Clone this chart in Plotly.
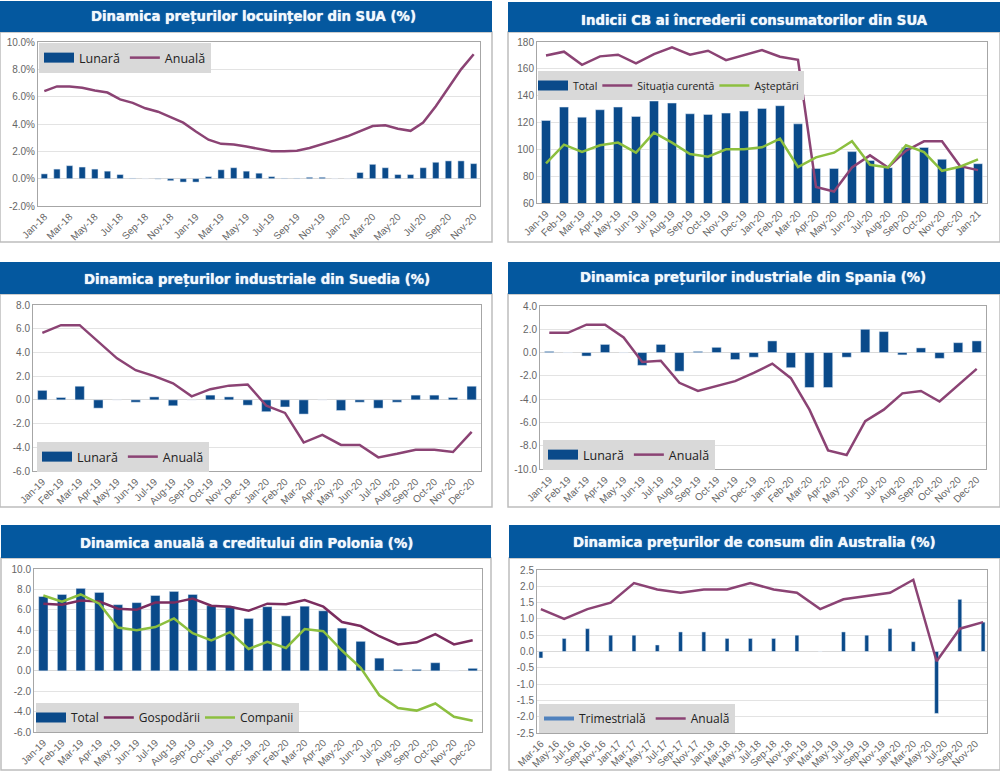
"""
six small macro panels, one page
"""
import pandas as pd
import plotly.graph_objects as go


def month_labels(start, count):
    return list(pd.date_range(start, periods=count, freq="MS").strftime("%b-%y"))


# SUA, preturi locuinte
us_house_months = month_labels("2018-01-01", 35)
us_house_monthly = [0.35, 0.7, 0.95, 0.85, 0.7, 0.55, 0.3, 0.03, 0, -0.03, -0.15, -0.25,
                    -0.25, 0.15, 0.65, 0.8, 0.55, 0.4, 0.15, 0.03, 0.03, 0.1, 0.1, 0,
                    0, 0.45, 1.05, 0.8, 0.3, 0.3, 0.8, 1.2, 1.3, 1.3, 1.1]
us_house_annual = [6.4, 6.75, 6.75, 6.65, 6.45, 6.3, 5.8, 5.55, 5.15, 4.9, 4.5, 4.1,
                   3.45, 2.85, 2.55, 2.5, 2.35, 2.15, 2.0, 2.0, 2.05, 2.25, 2.5, 2.8,
                   3.1, 3.5, 3.85, 3.9, 3.65, 3.5, 4.1, 5.3, 6.65, 8.0, 9.1]
us_house_yticks = [-2, 0, 2, 4, 6, 8, 10]

# SUA, increderea consumatorilor
us_conf_months = month_labels("2019-01-01", 25)
us_conf_total = [121.5, 131.5, 124, 129.5, 131.5, 124.5, 136, 134.5, 126.5, 126, 127, 128.5,
                 130.5, 132.5, 119, 85.7, 85.7, 98.3, 91.7, 86.3, 101.3, 101.4, 92.6, 87, 89.3]
us_conf_current = [170, 172.8, 163, 169.3, 170.5, 164, 171, 176, 170.5, 173.5, 166.5, 170.5,
                   174, 169, 166.7, 72, 68.6, 86.5, 95.5, 86.5, 99, 106, 106, 87.5, 84.5]
us_conf_expect = [89.5, 103.5, 98, 103, 105, 97.5, 112.5, 105, 96.5, 94.5, 100, 100,
                  101.5, 108, 86.8, 94, 97.5, 106, 88.5, 86.5, 103, 98, 84, 87, 92.5]
us_conf_yticks = [60, 80, 100, 120, 140, 160, 180]

months_24 = month_labels("2019-01-01", 24)

# Suedia
se_monthly = [0.8, 0.2, 1.15, -0.7, 0, -0.2, 0.25, -0.5, 0, 0.4, 0.25, -0.45,
              -1.0, -0.6, -1.2, 0, -0.9, -0.2, -0.7, -0.2, 0.4, 0.4, 0.2, 1.15]
se_annual = [5.65, 6.3, 6.3, 4.9, 3.5, 2.5, 2.0, 1.4, 0.3, 0.9, 1.2, 1.3,
             -0.5, -1.1, -3.6, -2.95, -3.8, -3.8, -4.85, -4.55, -4.2, -4.2, -4.4, -2.7]
se_yticks = [-6, -4, -2, 0, 2, 4, 6, 8]

# Spania
es_monthly = [0.1, 0, -0.3, 0.7, 0, -1.1, 0.7, -1.6, 0.1, 0.45, -0.6, -0.4,
              1.0, -1.3, -3.0, -3.0, -0.4, 2.0, 1.8, -0.2, 0.4, -0.5, 0.85, 1.0]
es_annual = [1.7, 1.7, 2.4, 2.4, 1.3, -0.8, -0.7, -2.6, -3.3, -2.85, -2.45, -1.75,
             -0.95, -2.2, -4.9, -8.4, -8.8, -5.9, -4.9, -3.5, -3.3, -4.2, -2.8, -1.4]
es_yticks = [-10, -8, -6, -4, -2, 0, 2, 4]

# Polonia
pl_total = [7.3, 7.5, 8.1, 7.7, 6.5, 6.7, 7.4, 7.8, 7.5, 6.4, 6.3, 5.15,
            6.3, 5.4, 6.35, 5.9, 4.2, 2.9, 1.25, 0.15, 0.15, 0.8, 0, 0.25]
pl_house = [6.6, 6.5, 6.9, 6.8, 6.1, 6.0, 6.7, 6.7, 7.1, 6.4, 6.3, 5.9,
            6.6, 6.55, 6.95, 6.3, 4.8, 4.4, 3.4, 2.6, 2.8, 3.6, 2.6, 3.0]
pl_comp = [7.4, 6.8, 7.5, 6.6, 4.25, 4.0, 4.3, 5.15, 3.7, 3.0, 3.8, 2.15,
           2.85, 2.25, 4.1, 3.9, 2.0, 0.3, -2.4, -3.65, -3.9, -3.2, -4.5, -4.9]
pl_yticks = [-6, -4, -2, 0, 2, 4, 6, 8, 10]

# Australia, date trimestriale pe axa lunara
au_months = month_labels("2016-03-01", 58)
au_quarters = au_months[::3]
au_quarterly = [-0.2, 0.4, 0.7, 0.5, 0.5, 0.2, 0.6, 0.6, 0.4, 0.4, 0.4, 0.5,
                0, 0.6, 0.5, 0.7, 0.3, -1.9, 1.6, 0.9]
au_annual = [1.3, 1.0, 1.3, 1.5, 2.1, 1.9, 1.8, 1.9, 1.9, 2.1, 1.9, 1.8,
             1.3, 1.6, 1.7, 1.8, 2.2, -0.3, 0.7, 0.9]
au_yticks = [-2.5, -2, -1.5, -1, -0.5, 0, 0.5, 1, 1.5, 2, 2.5]

BLUE = "#0a4a8a"
HEADER = "#04589f"
PLUM = "#8b4374"
PLUM_DARK = "#7b2d5f"
GREEN = "#8cbf3f"
W, H = 1000, 771

fig = go.Figure()
shapes = []
annotations = []


def add_panel(n, title, title_pos, header, frame, plot, legend_pos, cats, bars, lines, yticks, fmt,
              tick_step=1, swatch=10, legend_font=12.5, indent=0):
    """bars = (name, x, y); lines = [(name, x, y, color), ...]; boxes are pixels x0,y0,x1,y1"""
    xa = f"x{n}"
    ya = f"y{n}"
    leg = f"legend{n}" if n > 1 else "legend"

    bar_name, bar_x, bar_y = bars
    fig.add_trace(go.Bar(x=bar_x, y=bar_y, name=bar_name, marker_color=BLUE, xaxis=xa, yaxis=ya,
                         showlegend=False))
    # plotly draws a bar key as a small square, a thick empty line gives the wide swatch
    swatch_color = "#4f81bd" if swatch < 10 else BLUE
    fig.add_trace(go.Scatter(x=[None], y=[None], mode="lines", name=bar_name, xaxis=xa, yaxis=ya,
                             line=dict(color=swatch_color, width=swatch), legend=leg))
    for name, lx, ly, color in lines:
        fig.add_trace(go.Scatter(x=lx, y=ly, mode="lines", name=name, xaxis=xa, yaxis=ya,
                                 line=dict(color=color, width=2.5), legend=leg, connectgaps=True))

    px0, py0, px1, py1 = plot
    suffix = "" if n == 1 else str(n)
    fig.layout["xaxis" + suffix] = dict(
        domain=[px0 / W, px1 / W], anchor=ya, type="category", categoryorder="array",
        categoryarray=cats, range=[-0.5, len(cats) - 0.5],
        tickmode="array", tickvals=cats[::tick_step], ticktext=cats[::tick_step],
        tickangle=-45, tickfont=dict(family="Liberation Sans", size=10, color="#666666"),
        showgrid=False, ticks="", showline=True, linecolor="#a6a6a6", linewidth=1, mirror=True,
    )
    fig.layout["yaxis" + suffix] = dict(
        domain=[1 - py1 / H, 1 - py0 / H], anchor=xa, range=[yticks[0], yticks[-1]],
        tickmode="array", tickvals=yticks, ticktext=[fmt.format(v) for v in yticks],
        tickfont=dict(family="Liberation Sans", size=10, color="#666666"),
        gridcolor="#e3e3e3", gridwidth=1, zeroline=True, zerolinecolor="#d9d9d9", zerolinewidth=1,
        showline=True, linecolor="#a6a6a6", linewidth=1, mirror=True, ticks="",
    )
    fig.layout[leg] = dict(
        x=legend_pos[0] / W, y=1 - legend_pos[1] / H, xanchor="left", yanchor="top",
        orientation="h", bgcolor="#d9d9d9", borderwidth=0, itemwidth=30, indentation=indent,
        font=dict(family="Open Sans", size=legend_font, color="#222222"),
        itemclick=False, itemdoubleclick=False,
    )

    fx0, fy0, fx1, fy1 = frame
    shapes.append(dict(type="rect", xref="paper", yref="paper", x0=fx0 / W, x1=fx1 / W,
                       y0=1 - fy0 / H, y1=1 - fy1 / H, line=dict(color="#bdbdbd", width=1.5),
                       fillcolor="white", layer="below"))
    hx0, hy0, hx1, hy1 = header
    shapes.append(dict(type="rect", xref="paper", yref="paper", x0=hx0 / W, x1=hx1 / W,
                       y0=1 - hy0 / H, y1=1 - hy1 / H, line=dict(width=0),
                       fillcolor=HEADER, layer="below"))
    annotations.append(dict(text=f"<b>{title}</b>", xref="paper", yref="paper",
                            x=title_pos[0] / W, y=1 - title_pos[1] / H,
                            xanchor="center", yanchor="middle", showarrow=False,
                            font=dict(family="DejaVu Sans Condensed", size=14.8, color="#f2f8fc",
                                      shadow="0 0 1px #e6f0f8")))


add_panel(1, "Dinamica prețurilor locuințelor din SUA (%)", (253, 16), (0, 1, 492, 32), (0, 32, 492, 242),
          (38, 42, 480, 206), (39, 43), us_house_months,
          ("Lunară", us_house_months, us_house_monthly),
          [("Anuală", us_house_months, us_house_annual, PLUM)],
          us_house_yticks, "{:.1f}%", tick_step=2)
add_panel(2, "Indicii CB ai încrederii consumatorilor din SUA", (754, 19), (508, 2, 1000, 32), (508, 32, 1000, 242),
          (537, 42, 987, 203), (538, 71), us_conf_months,
          ("Total", us_conf_months, us_conf_total),
          [("Situaţia curentă", us_conf_months, us_conf_current, PLUM),
           ("Aşteptări", us_conf_months, us_conf_expect, GREEN)],
          us_conf_yticks, "{:d}", legend_font=10.5, indent=-5)
add_panel(3, "Dinamica prețurilor industriale din Suedia (%)", (257, 279), (0, 262, 492, 294), (0, 294, 492, 507),
          (33, 305, 481, 471), (37, 442), months_24,
          ("Lunară", months_24, se_monthly),
          [("Anuală", months_24, se_annual, PLUM)],
          se_yticks, "{:.1f}")
add_panel(4, "Dinamica prețurilor industriale din Spania (%)", (753, 277), (508, 262, 1000, 294), (508, 294, 1000, 507),
          (540, 306, 986, 469), (543, 440), months_24,
          ("Lunară", months_24, es_monthly),
          [("Anuală", months_24, es_annual, PLUM)],
          es_yticks, "{:.1f}")
add_panel(5, "Dinamica anuală a creditului din Polonia (%)", (246, 542), (1, 525, 491, 558), (1, 558, 491, 770),
          (34, 569, 482, 732), (36, 703), months_24,
          ("Total", months_24, pl_total),
          [("Gospodării", months_24, pl_house, PLUM_DARK),
           ("Companii", months_24, pl_comp, GREEN)],
          pl_yticks, "{:.1f}", legend_font=12, indent=-5)
add_panel(6, "Dinamica prețurilor de consum din Australia (%)", (754, 542), (509, 525, 1000, 558), (509, 558, 1000, 770),
          (537, 570, 987, 733), (539, 704), au_months,
          ("Trimestrială", au_quarters, au_quarterly),
          [("Anuală", au_quarters, au_annual, PLUM)],
          au_yticks, "{:.1f}", tick_step=2, swatch=4, legend_font=12)

fig.update_layout(width=W, height=H, margin=dict(l=0, r=0, t=0, b=0, autoexpand=False), autosize=False,
                  paper_bgcolor="white", plot_bgcolor="white", bargap=0.5,
                  shapes=shapes, annotations=annotations)

fig.write_html("out.html", post_script="document.body.style.margin='0';",
               config={"displayModeBar": False})
